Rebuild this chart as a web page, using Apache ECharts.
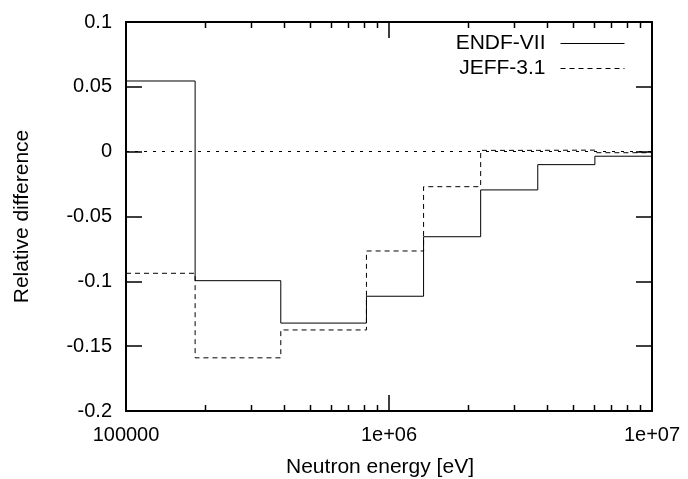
<!DOCTYPE html>
<html>
<head>
<meta charset="utf-8">
<script src="https://cdn.jsdelivr.net/npm/echarts@6/dist/echarts.min.js"></script>
<style>
  html, body { margin: 0; padding: 0; background: #fff; }
  #chart { width: 688px; height: 479px; }
</style>
</head>
<body>
<div id="chart"></div>
<script>
  // group boundaries (eV) and relative differences per group
  const edges = [1e5, 1.8316e5, 3.8774e5, 8.2085e5, 1.3534e6, 2.2313e6, 3.6788e6, 6.0653e6, 1e7];
  const endf = [0.0545, -0.0995, -0.1322, -0.1115, -0.0656, -0.0295, -0.0100, -0.0035];
  const jeff = [-0.0938, -0.1590, -0.1375, -0.0766, -0.0270, 0.0010, 0.0012, -0.0008];
  const minorTicks = [2e5, 3e5, 4e5, 5e5, 6e5, 7e5, 8e5, 9e5, 2e6, 3e6, 4e6, 5e6, 6e6, 7e6, 8e6, 9e6];
  const xTickLabels = { 100000: '100000', 1000000: '1e+06', 10000000: '1e+07' };
  const yMin = -0.2, yMax = 0.1;

  const font = 'Liberation Sans';

  // step data: point at each lower edge, last point closes at the top edge
  function stepData(vals) {
    const d = vals.map((v, i) => [edges[i], v]);
    d.push([edges[edges.length - 1], vals[vals.length - 1]]);
    return d;
  }

  const chart = echarts.init(document.getElementById('chart'));
  const axisLine = { show: true, onZero: false, lineStyle: { color: '#000', width: 2 } };
  const tick = { show: true, inside: true, length: 16, lineStyle: { color: '#000', width: 1.5 } };

  const option = {
    animation: false,
    backgroundColor: '#fff',
    textStyle: { fontFamily: font },
    grid: { left: 126, top: 22, right: 36, bottom: 68, outerBoundsMode: 'none', containLabel: false },
    legend: {
      data: ['ENDF-VII', 'JEFF-3.1'],
      orient: 'vertical',
      right: 58,
      top: 28,
      align: 'right',
      itemWidth: 64,
      itemHeight: 14,
      itemGap: 4,
      itemStyle: { opacity: 0 },
      lineStyle: { width: 1 },
      textStyle: { fontFamily: font, fontSize: 21, color: '#000', lineHeight: 20, padding: [0, 10, 0, 0] }
    },
    xAxis: [
      {
        type: 'log', logBase: 10, min: 1e5, max: 1e7,
        name: 'Neutron energy [eV]', nameLocation: 'middle', nameGap: 46,
        nameTextStyle: { fontFamily: font, fontSize: 21, color: '#000', padding: [0, 18, 0, 0] },
        axisLine: axisLine, axisTick: tick, splitLine: { show: false },
        axisLabel: {
          fontFamily: font, fontSize: 20, color: '#000', margin: 14,
          formatter: v => xTickLabels[Math.round(v)] || ''
        }
      },
      {
        type: 'log', logBase: 10, min: 1e5, max: 1e7, position: 'top',
        axisLine: axisLine, axisTick: tick, splitLine: { show: false },
        axisLabel: { show: false }
      }
    ],
    yAxis: [
      {
        type: 'value', min: yMin, max: yMax, interval: 0.05,
        name: 'Relative difference', nameLocation: 'middle', nameRotate: 90, nameGap: 93,
        nameTextStyle: { fontFamily: font, fontSize: 21, color: '#000' },
        axisLine: axisLine, axisTick: tick, splitLine: { show: false },
        axisLabel: { fontFamily: font, fontSize: 20, color: '#000', margin: 14 }
      },
      {
        type: 'value', min: yMin, max: yMax, interval: 0.05, position: 'right',
        axisLine: axisLine, axisTick: tick, splitLine: { show: false },
        axisLabel: { show: false }
      }
    ],
    series: [
      {
        name: 'ENDF-VII', type: 'line', step: 'end', symbol: 'none',
        lineStyle: { color: '#000', width: 1 },
        itemStyle: { color: '#000' },
        data: stepData(endf),
        markLine: {
          silent: true, symbol: 'none', label: { show: false },
          lineStyle: { color: '#000', width: 1, type: [3, 6] },
          data: [{ yAxis: 0 }]
        }
      },
      {
        name: 'JEFF-3.1', type: 'line', step: 'end', symbol: 'none',
        lineStyle: { color: '#000', width: 1, type: [5, 4] },
        itemStyle: { color: '#000' },
        data: stepData(jeff)
      },
      {
        // minor ticks of the log axis, bottom and top
        type: 'custom', silent: true, clip: false, z: 10,
        data: minorTicks.map(v => [v]),
        encode: { x: 0 },
        renderItem: function (params, api) {
          const x = api.value(0);
          const b = api.coord([x, yMin]);
          const t = api.coord([x, yMax]);
          const px = Math.round(b[0]) + 0.5;
          const st = { stroke: '#000', lineWidth: 1.5 };
          return {
            type: 'group',
            children: [
              { type: 'line', shape: { x1: px, y1: b[1], x2: px, y2: b[1] - 6 }, style: st },
              { type: 'line', shape: { x1: px, y1: t[1], x2: px, y2: t[1] + 6 }, style: st }
            ]
          };
        }
      }
    ]
  };

  chart.setOption(option);
</script>
</body>
</html>
